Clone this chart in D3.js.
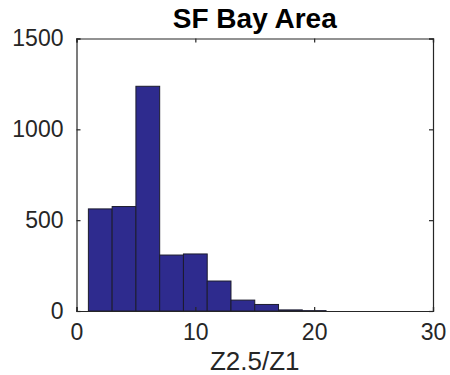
<!DOCTYPE html>
<html>
<head>
<meta charset="utf-8">
<script src="https://cdn.jsdelivr.net/npm/d3@7"></script>
<style>
  html, body { margin: 0; padding: 0; background: #fff; }
  svg { display: block; }
</style>
</head>
<body>
<svg id="chart" width="450" height="375"></svg>
<script>
// Histogram bins of Z2.5/Z1 (bin width 2, starting at 1)
const binEdges = [1, 3, 5, 7, 9, 11, 13, 15, 17, 19, 21];
const counts = [562, 575, 1237, 308, 314, 165, 60, 36, 6, 2];
const xTicks = [0, 10, 20, 30];
const yTicks = [0, 500, 1000, 1500];
const titleText = "SF Bay Area";
const xLabel = "Z2.5/Z1";

const svg = d3.select("#chart");
const margin = { left: 76.5, right: 17, top: 38.5, bottom: 64 };
const W = 450, H = 375;
const x = d3.scaleLinear().domain([0, 30]).range([margin.left, W - margin.right]);
const y = d3.scaleLinear().domain([0, 1500]).range([H - margin.bottom, margin.top]);

const bins = counts.map((c, i) => ({ x0: binEdges[i], x1: binEdges[i + 1], n: c }));

svg.append("g").selectAll("rect")
  .data(bins)
  .join("rect")
  .attr("x", d => x(d.x0))
  .attr("width", d => x(d.x1) - x(d.x0))
  .attr("y", d => y(d.n))
  .attr("height", d => y(0) - y(d.n))
  .attr("fill", "#2e2b8e")
  .attr("stroke", "#1c1c2e")
  .attr("stroke-width", 1);

const font = "'Liberation Sans', Arial, Helvetica, sans-serif";
const axisColor = "#262626";
const tickLen = 4;

function styleAxis(g) {
  g.select(".domain").attr("stroke", axisColor).attr("stroke-width", 1.2);
  g.selectAll(".tick line").attr("stroke", axisColor).attr("stroke-width", 1.2);
  g.selectAll(".tick text").attr("fill", axisColor).style("font-family", font).style("font-size", "23px");
}

// bottom and left axes with inward ticks
svg.append("g")
  .attr("transform", `translate(0,${y(0)})`)
  .call(d3.axisBottom(x).tickValues(xTicks).tickSize(-tickLen).tickPadding(13).tickFormat(d3.format("d")))
  .call(styleAxis);
svg.append("g")
  .attr("transform", `translate(${x(0)},0)`)
  .call(d3.axisLeft(y).tickValues(yTicks).tickSize(-tickLen).tickPadding(13).tickFormat(d3.format("d")))
  .call(styleAxis);
// top and right axes close the box, inward ticks, no labels
svg.append("g")
  .attr("transform", `translate(0,${y(1500)})`)
  .call(d3.axisTop(x).tickValues(xTicks).tickSize(-tickLen).tickFormat(""))
  .call(styleAxis);
svg.append("g")
  .attr("transform", `translate(${x(30)},0)`)
  .call(d3.axisRight(y).tickValues(yTicks).tickSize(-tickLen).tickFormat(""))
  .call(styleAxis);

svg.append("text")
  .attr("x", (x(0) + x(30)) / 2)
  .attr("y", 28)
  .attr("text-anchor", "middle")
  .style("font-family", font)
  .style("font-weight", "bold")
  .style("font-size", "28px")
  .attr("fill", "#000")
  .text(titleText);

svg.append("text")
  .attr("x", (x(0) + x(30)) / 2)
  .attr("y", 370)
  .attr("text-anchor", "middle")
  .style("font-family", font)
  .style("font-size", "26px")
  .attr("fill", axisColor)
  .text(xLabel);
</script>
</body>
</html>
